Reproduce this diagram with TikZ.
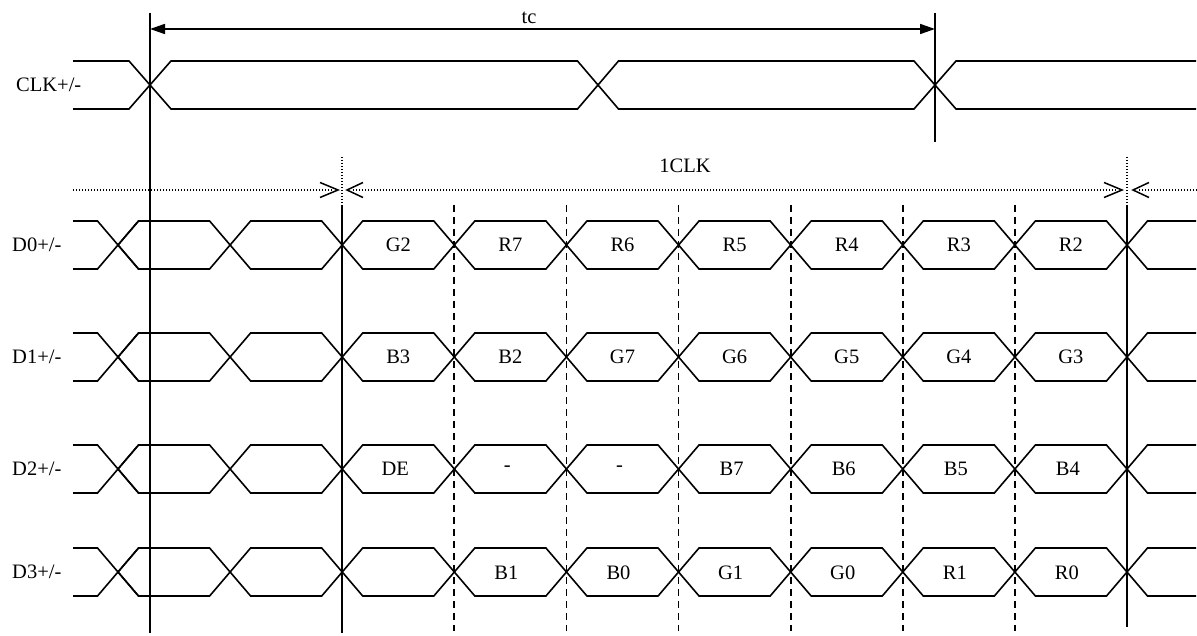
\documentclass[tikz,border=0pt]{standalone}
\usepackage{fontspec}
\setmainfont{Liberation Serif}
\usetikzlibrary{arrows.meta,calc}
\begin{document}
\begin{tikzpicture}[x=1pt,y=-1pt,
  sig/.style={line width=1.6pt, line join=miter},
  vline/.style={line width=1.7pt},
  dline/.style={line width=1.7pt, dash pattern=on 7pt off 5pt},
  dotline/.style={line width=1.4pt, dash pattern=on 1.4pt off 1.6pt},
  barb/.style={line width=1.5pt, line join=miter},
  dim/.style={line width=1.6pt, {Triangle[length=15pt,width=10pt]}-{Triangle[length=15pt,width=10pt]}},
  lbl/.style={font=\fontsize{20.5}{24}\selectfont, inner sep=0pt}]
\useasboundingbox (0,0) rectangle (1197,636);
\def\hw{20.5}
% ---------- CLK ----------
\draw[sig] (73,61) -- (129,61) -- (171,109) -- (577.5,109) -- (618.5,61) -- (914,61) -- (956,109) -- (1196,109);
\draw[sig] (73,109) -- (129,109) -- (171,61) -- (577.5,61) -- (618.5,109) -- (914,109) -- (956,61) -- (1196,61);
\node[lbl, anchor=west] (clk) at (16,85) {CLK+/-};
% ---------- tc ----------
\coordinate (tcA) at (150,29);
\coordinate (tcB) at (935,29);
\draw[dim] (tcA) -- (tcB);
\node[lbl] (tc) at (529,18) {tc};
\coordinate (v1t) at (150,13); \coordinate (v1b) at (150,633);
\draw[vline] (v1t) -- (v1b);
\coordinate (v2t) at (935,13); \coordinate (v2b) at (935,142);
\draw[vline] (v2t) -- (v2b);
% ---------- 1CLK ----------
\node[lbl] (oneclk) at (685,166) {1CLK};
\coordinate (d0) at (73,190);
\coordinate (d1) at (338,190);
\coordinate (d2) at (347,190);
\coordinate (d3) at (1122,190);
\coordinate (d4) at (1133,190);
\coordinate (d5) at (1197,190);
\draw[dotline] (d0) -- ($(d1)+(-6,0)$);
\draw[dotline] ($(d2)+(6,0)$) -- ($(d3)+(-6,0)$);
\draw[dotline] ($(d4)+(6,0)$) -- (d5);
\draw[barb] ($(d1)+(-18,-7.5)$) -- (d1) -- ($(d1)+(-18,7.5)$);
\draw[barb] ($(d2)+(16,-7.5)$) -- (d2) -- ($(d2)+(16,7.5)$);
\draw[barb] ($(d3)+(-18,-7.5)$) -- (d3) -- ($(d3)+(-18,7.5)$);
\draw[barb] ($(d4)+(16,-7.5)$) -- (d4) -- ($(d4)+(16,7.5)$);
\coordinate (p1t) at (342,157); \coordinate (p1b) at (342,203);
\coordinate (p2t) at (1127,157); \coordinate (p2b) at (1127,203);
\draw[dotline] (p1t) -- (p1b);
\draw[dotline] (p2t) -- (p2b);
% ---------- vertical lines ----------
\coordinate (s1t) at (342,205); \coordinate (s1b) at (342,633);
\draw[vline] (s1t) -- (s1b);
\coordinate (s2t) at (1127,205); \coordinate (s2b) at (1127,627);
\draw[vline] (s2t) -- (s2b);
\foreach \k in {3,...,8}{
  \pgfmathsetmacro{\xx}{118+\k*112.111}
  \coordinate (dt\k) at (\xx,205);
  \coordinate (db\k) at (\xx,631);
  \draw[dline] (dt\k) -- (db\k);
}
% ---------- data rows ----------
\foreach \yt/\yb/\nm in {221/269/D0, 333/381/D1, 445/493/D2, 548/596/D3}{
  \pgfmathsetmacro{\ym}{(\yt+\yb)/2}
  \draw[sig] (73,\yt) -- (97.5,\yt) -- (138.5,\yb);
  \draw[sig] (73,\yb) -- (97.5,\yb) -- (138.5,\yt);
  \foreach \k in {0,...,8}{
    \pgfmathsetmacro{\xa}{118+\k*112.111}
    \pgfmathsetmacro{\xb}{118+(\k+1)*112.111}
    \draw[sig] (\xa,\ym) -- (\xa+\hw,\yt) -- (\xb-\hw,\yt) -- (\xb,\ym) -- (\xb-\hw,\yb) -- (\xa+\hw,\yb) -- cycle;
  }
  \draw[sig] (1127,\ym) -- (1147.5,\yt) -- (1196,\yt);
  \draw[sig] (1127,\ym) -- (1147.5,\yb) -- (1196,\yb);
}
\node[lbl, anchor=west] (lD0) at (12,245) {D0+/-};
\node[lbl, anchor=west] (lD1) at (12,357) {D1+/-};
\node[lbl, anchor=west] (lD2) at (12,469) {D2+/-};
\node[lbl, anchor=west] (lD3) at (12,572) {D3+/-};
% labels
\foreach \t [count=\i from 3] in {G2,R7,R6,R5,R4,R3,R2}{
  \pgfmathsetmacro{\xc}{118+(\i-0.5)*112.111}
  \node[lbl] (a\i) at (\xc,245) {\t};
}
\foreach \t [count=\i from 3] in {B3,B2,G7,G6,G5,G4,G3}{
  \pgfmathsetmacro{\xc}{118+(\i-0.5)*112.111}
  \node[lbl] (b\i) at (\xc,357) {\t};
}
\foreach \t [count=\i from 3] in {DE,-,-,B7,B6,B5,B4}{
  \pgfmathsetmacro{\xc}{118+(\i-0.5)*112.111-3}
  \node[lbl] (c\i) at (\xc,469) {\t};
}
\foreach \t [count=\i from 4] in {B1,B0,G1,G0,R1,R0}{
  \pgfmathsetmacro{\xc}{118+(\i-0.5)*112.111-4}
  \node[lbl] (e\i) at (\xc,573) {\t};
}
\end{tikzpicture}
\end{document}
